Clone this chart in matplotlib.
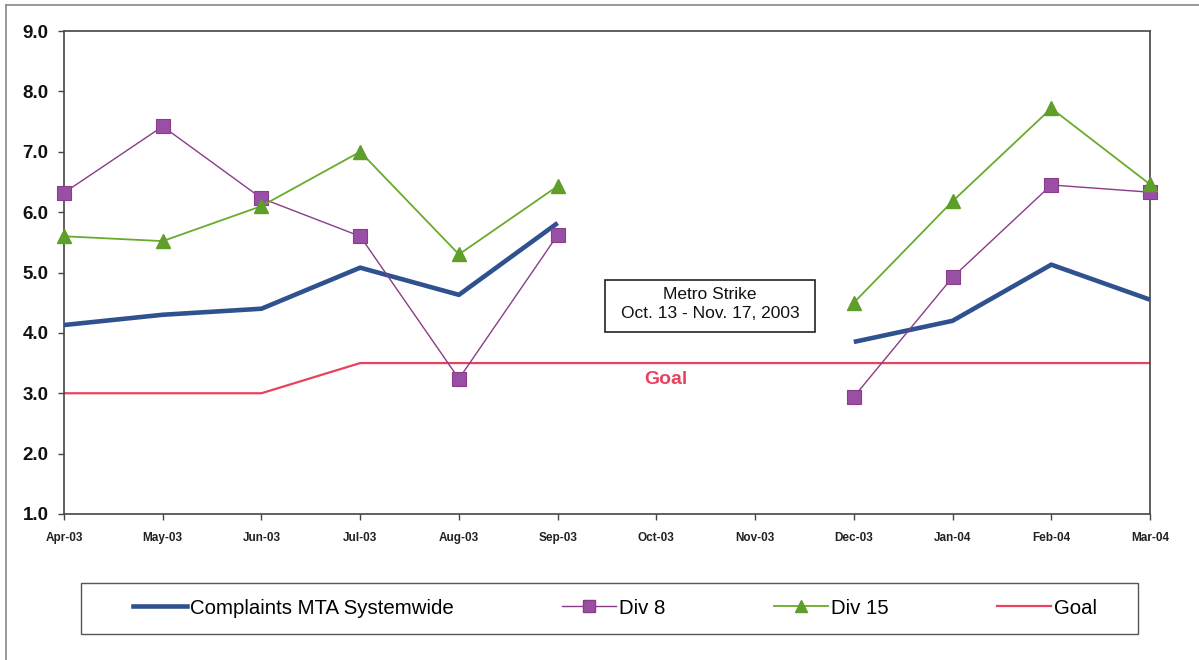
import numpy as np
import matplotlib
matplotlib.use("Agg")
import matplotlib.pyplot as plt
from matplotlib.lines import Line2D
from matplotlib.patches import Rectangle

months = ["Apr-03", "May-03", "Jun-03", "Jul-03", "Aug-03", "Sep-03",
          "Oct-03", "Nov-03", "Dec-03", "Jan-04", "Feb-04", "Mar-04"]
systemwide = [4.13, 4.30, 4.40, 5.08, 4.63, 5.82, np.nan, np.nan, 3.85, 4.20, 5.13, 4.55]
div8 = [6.32, 7.42, 6.23, 5.60, 3.24, 5.62, np.nan, np.nan, 2.94, 4.92, 6.45, 6.33]
div15 = [5.60, 5.52, 6.10, 7.00, 5.30, 6.43, np.nan, np.nan, 4.50, 6.18, 7.72, 6.46]
goal = [3.0, 3.0, 3.0, 3.5, 3.5, 3.5, 3.5, 3.5, 3.5, 3.5, 3.5, 3.5]
yticks = [1.0, 2.0, 3.0, 4.0, 5.0, 6.0, 7.0, 8.0, 9.0]

plt.rcParams['font.family'] = ['Liberation Sans', 'DejaVu Sans']

W, H = 1199, 660
fig = plt.figure(figsize=(W / 100, H / 100), dpi=100)
ax = fig.add_axes([64 / W, 1 - 514 / H, (1150 - 64) / W, (514 - 31) / H])

x = np.arange(len(months))
c_sys = "#2f5190"
c_div8 = "#8a3c86"
c_div8m = "#9a4fa6"
c_div15 = "#6aaa2c"
c_div15m = "#5e9e2a"
c_goal = "#e8435e"

ax.plot(x, goal, color=c_goal, lw=1.6, zorder=2)
ax.plot(x, systemwide, color=c_sys, lw=3.3, solid_capstyle='butt', zorder=3, clip_on=False)
ax.plot(x, div8, color=c_div8, lw=1.0, marker='s', markersize=9.5,
        markerfacecolor=c_div8m, markeredgecolor=c_div8, markeredgewidth=0.8,
        zorder=4, clip_on=False)
ax.plot(x, div15, color=c_div15, lw=1.3, marker='^', markersize=10,
        markerfacecolor=c_div15m, markeredgecolor=c_div15m, zorder=5, clip_on=False)

ax.set_xlim(0, len(months) - 1)
ax.set_ylim(1.0, 9.0)
ax.set_xticks(x)
ax.set_xticklabels(months, fontsize=8.5, fontweight='bold', color='#222222')
ax.set_yticks(yticks)
ax.set_yticklabels([f"{v:.1f}" for v in yticks], fontsize=13.5, fontweight='bold', color='#111111')
ax.tick_params(axis='x', direction='out', length=4, width=1, color='#444444', pad=9)
ax.tick_params(axis='y', direction='out', length=4, width=1, color='#444444', pad=7)
for s in ax.spines.values():
    s.set_color('#444444')
    s.set_linewidth(1.2)

ax.text(6.1, 3.22, "Goal", color=c_goal, fontsize=14, fontweight='bold',
        ha='center', va='center')

# strike annotation box
fig.add_artist(Rectangle((605 / W, 1 - 332 / H), 210 / W, 52 / H,
                         transform=fig.transFigure, facecolor='white',
                         edgecolor='#222222', lw=1.2, zorder=6))
fig.text(710 / W, 1 - 304 / H, "Metro Strike\nOct. 13 - Nov. 17, 2003", fontsize=12.5,
         ha='center', va='center', linespacing=1.3, color='#111111', zorder=7)

handles = [
    Line2D([], [], color=c_sys, lw=3.3),
    Line2D([], [], color=c_div8, lw=1.0, marker='s', markersize=9,
           markerfacecolor=c_div8m, markeredgecolor=c_div8),
    Line2D([], [], color=c_div15, lw=1.3, marker='^', markersize=9,
           markerfacecolor=c_div15m, markeredgecolor=c_div15m),
    Line2D([], [], color=c_goal, lw=1.6),
]
labels = ["Complaints MTA Systemwide", "Div 8", "Div 15", "Goal"]
fig.add_artist(Rectangle((81 / W, 1 - 634 / H), (1138 - 81) / W, 51 / H,
                         transform=fig.transFigure, facecolor='white',
                         edgecolor='#555555', lw=1.0))
leg = fig.legend(handles, labels, loc='center left', bbox_to_anchor=(133 / W, 1 - 608 / H),
                 ncol=4, fontsize=14.7, frameon=False, handlelength=2.65,
                 handletextpad=0.15, columnspacing=5.3, borderpad=0, borderaxespad=0)

# outer chart border (left and top edges visible)
fig.add_artist(Line2D([6 / W, 6 / W], [0, 1 - 5 / H], color='#888888', lw=1.2))
fig.add_artist(Line2D([6 / W, 1], [1 - 5 / H, 1 - 5 / H], color='#888888', lw=1.2))

fig.savefig("out.png", dpi=100)
